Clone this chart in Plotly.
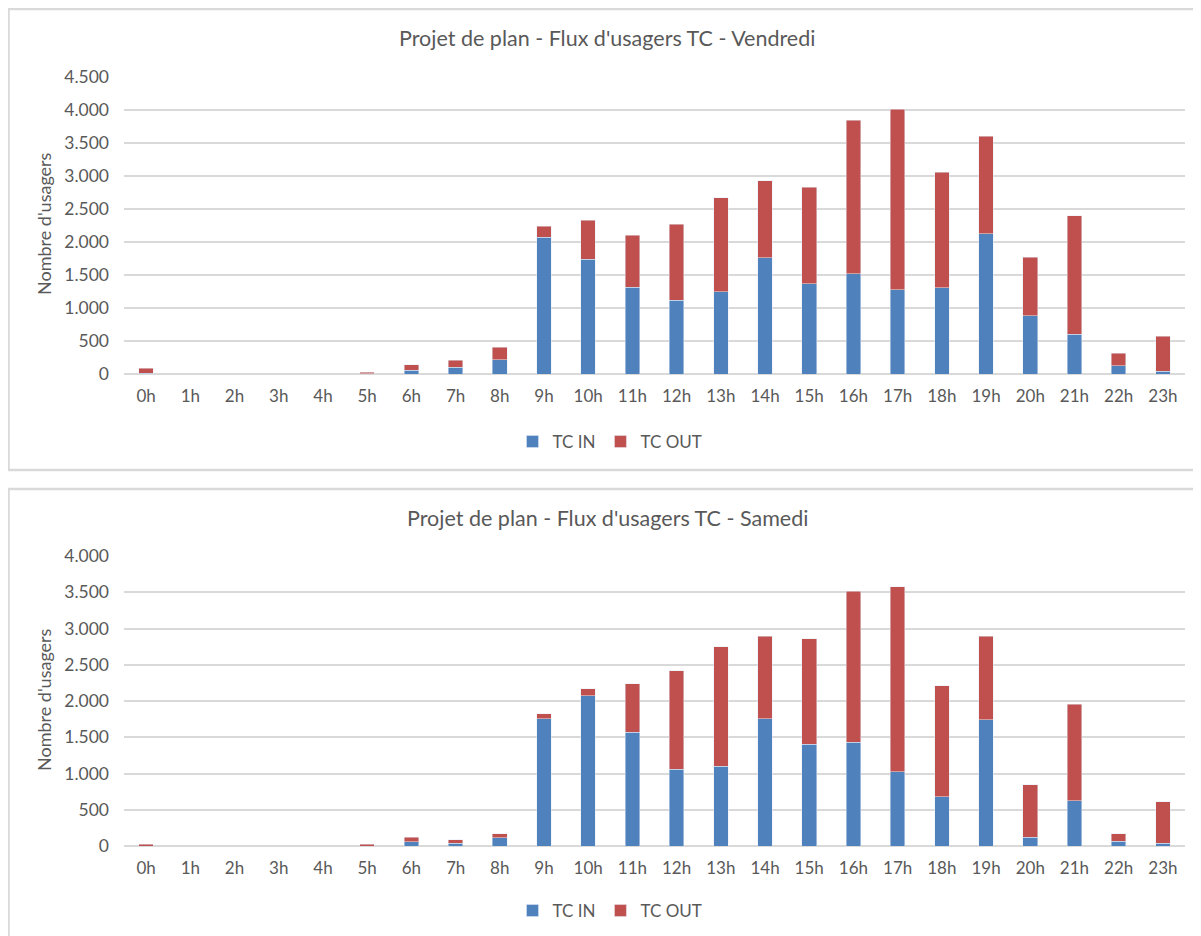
import plotly.graph_objects as go

hours = [f"{h}h" for h in range(24)]

vendredi_in = [10, 0, 0, 0, 0, 5, 60, 100, 217, 2070, 1738, 1318, 1121, 1247, 1763, 1369,
               1520, 1278, 1308, 2126, 879, 606, 126, 40]
vendredi_out = [75, 0, 0, 0, 0, 25, 81, 112, 187, 172, 590, 788, 1147, 1424, 1166, 1459,
                2328, 2732, 1747, 1480, 889, 1793, 187, 531]

samedi_in = [0, 0, 0, 0, 0, 0, 60, 37, 116, 1752, 2074, 1572, 1060, 1102, 1752, 1406,
             1434, 1023, 677, 1743, 124, 627, 65, 37]
samedi_out = [23, 0, 0, 0, 0, 23, 60, 51, 55, 73, 97, 663, 1355, 1645, 1138, 1456,
              2083, 2554, 1531, 1147, 720, 1328, 101, 576]

titles = ["Projet de plan - Flux d'usagers TC - Vendredi",
          "Projet de plan - Flux d'usagers TC - Samedi"]
yaxis_title = "Nombre d'usagers"
series_names = ["TC IN", "TC OUT"]

W, H = 1201, 936
OFF = 8  # page body margin
BLUE = "#4F81BD"
RED = "#C0504D"
TXT = "#595959"
GRID = "#D9D9D9"
FONT = "Lato, 'Open Sans', sans-serif"


def px(x):
    return (x - OFF) / W


def py(y):
    return 1 - (y - OFF) / H


fig = go.Figure()

fig.add_trace(go.Bar(x=hours, y=vendredi_in, name=series_names[0], marker_color=BLUE,
                     xaxis="x", yaxis="y", legend="legend"))
fig.add_trace(go.Bar(x=hours, y=vendredi_out, name=series_names[1], marker_color=RED,
                     xaxis="x", yaxis="y", legend="legend"))
fig.add_trace(go.Bar(x=hours, y=samedi_in, name=series_names[0], marker_color=BLUE,
                     xaxis="x2", yaxis="y2", legend="legend2"))
fig.add_trace(go.Bar(x=hours, y=samedi_out, name=series_names[1], marker_color=RED,
                     xaxis="x2", yaxis="y2", legend="legend2"))

xdom = [px(124), px(1185)]
axis_common_x = dict(domain=xdom, type="category", showgrid=False, showline=False,
                     zeroline=False, ticks="", tickfont=dict(family=FONT, size=17, color=TXT),
                     ticklabelstandoff=10, fixedrange=True, automargin=False)
axis_common_y = dict(showgrid=True, gridcolor=GRID, gridwidth=1.5, zeroline=True,
                     zerolinecolor=GRID, zerolinewidth=1.5, showline=False, ticks="",
                     tickfont=dict(family=FONT, size=17.5, color=TXT), tickformat=",d",
                     ticklabelstandoff=14, dtick=500, fixedrange=True, automargin=False)

legend_common = dict(orientation="h", xanchor="center", yanchor="middle",
                     font=dict(family=FONT, size=17, color=TXT), itemwidth=30,
                     traceorder="normal", bgcolor="rgba(0,0,0,0)")

fig.update_layout(
    width=W, height=H,
    margin=dict(l=0, r=0, t=0, b=0, pad=0, autoexpand=False),
    paper_bgcolor="white", plot_bgcolor="white",
    separators=",.",
    barmode="stack", bargap=0.67,
    font=dict(family=FONT, color=TXT),
    xaxis=dict(anchor="y", **axis_common_x),
    yaxis=dict(anchor="x", domain=[py(374), py(77)], range=[0, 4500], **axis_common_y),
    xaxis2=dict(anchor="y2", **axis_common_x),
    yaxis2=dict(anchor="x2", domain=[py(846), py(556)], range=[0, 4000], **axis_common_y),
    legend=dict(x=px(610), y=py(442), **legend_common),
    legend2=dict(x=px(610), y=py(911), **legend_common),
    showlegend=True,
)

# chart frames
fig.add_shape(type="rect", xref="paper", yref="paper", x0=px(8.5), x1=px(1220),
              y0=py(470), y1=py(9), line=dict(color=GRID, width=2.5), layer="below")
fig.add_shape(type="rect", xref="paper", yref="paper", x0=px(8.5), x1=px(1220),
              y0=py(960), y1=py(489), line=dict(color=GRID, width=2.5), layer="below")

# titles
for t, ycen in zip(titles, [38, 518]):
    fig.add_annotation(text=t, xref="paper", yref="paper", x=px(607), y=py(ycen),
                       xanchor="center", yanchor="middle", showarrow=False,
                       font=dict(family=FONT, size=21.5, color=TXT))
# y-axis titles
for ycen in [224, 700]:
    fig.add_annotation(text=yaxis_title, xref="paper", yref="paper", x=px(44), y=py(ycen),
                       xanchor="center", yanchor="middle", showarrow=False, textangle=-90,
                       font=dict(family=FONT, size=18, color=TXT))

fig.write_html("out.html")
